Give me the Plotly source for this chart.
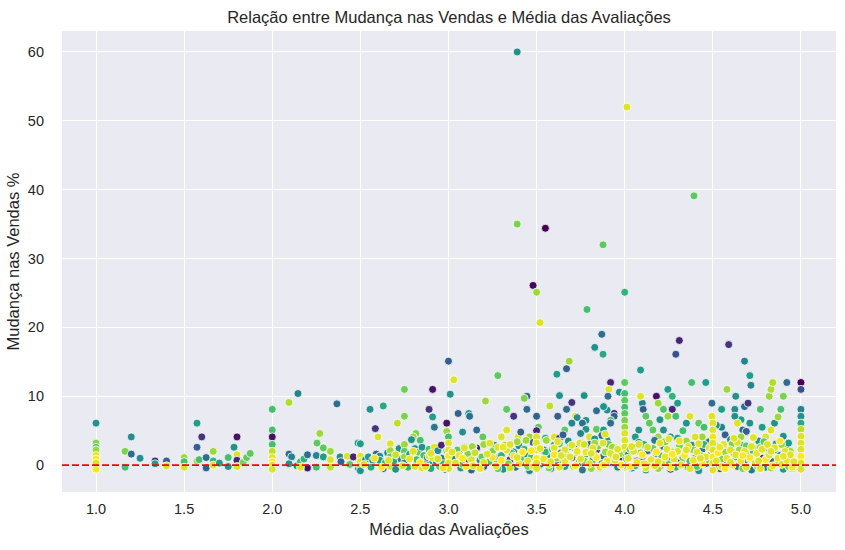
import plotly.graph_objects as go

# ---- Região 1: médias entre 1.0 e 2.45 ----
media_r1 = [1.0,1.0,1.0,1.0,1.0,1.0,1.0,1.0,1.165,1.165,1.20,1.20,1.25,1.335,1.335,1.40,1.40,1.5,1.5,1.5,
            1.573,1.60,1.573,1.573,1.585,1.625,1.625,1.665,1.665,1.665,1.70,1.75,1.75,1.783,1.80,1.80,1.80,1.80,1.835,1.855,1.875,
            2.0,2.0,2.0,2.0,2.0,2.0,2.0,2.0,2.0,
            2.095,2.146,2.367,2.27,2.254,2.29,2.095,2.11,2.095,2.14,2.16,2.18,2.20,2.20,2.16,2.25,2.25,2.29,2.33,2.33,2.33,2.385,2.39,2.425,2.44]
mudanca_r1 = [6.1,3.2,2.6,2.2,1.4,0.9,0.3,-0.6,2.0,-0.3,4.1,1.6,1.0,0.6,0.2,0.6,-0.1,1.1,0.5,-0.3,
              6.1,4.1,2.6,0.6,0.8,1.1,-0.4,2.0,0.6,0.0,0.3,1.1,-0.2,2.6,4.1,1.5,0.7,-0.2,0.4,1.1,1.7,
              8.1,5.1,4.1,3.0,2.0,1.1,0.5,0.0,-0.6,
              9.1,10.4,8.9,4.6,3.2,2.5,1.6,1.2,0.2,-0.1,0.5,0.9,1.5,-0.4,-0.3,1.4,-0.3,1.2,2.0,0.8,-0.3,1.2,0.5,1.3,0.1]
cor_r1 = [0.5,0.8,0.75,0.85,0.95,1.0,0.95,1.0,0.8,0.7,0.5,0.35,0.5,0.1,0.55,0.3,0.95,0.85,0.7,0.95,
          0.55,0.15,0.3,0.85,0.7,0.35,0.3,0.85,0.65,0.95,0.55,0.7,0.5,0.5,0.05,0.95,0.1,0.95,0.8,0.75,0.75,
          0.7,0.7,0.05,0.7,0.9,0.95,1.0,0.95,0.95,
          0.88,0.45,0.35,0.85,0.75,0.75,0.35,0.45,0.5,0.5,0.7,0.65,0.35,0.05,0.95,0.45,0.7,0.55,0.85,0.95,0.9,0.5,0.3,0.95,0.75]

# ---- Região 2: médias entre 2.45 e 3.05 ----
media_r2 = [2.555,2.63,2.75,2.91,2.89,2.91,2.92,2.99,2.99,2.585,2.60,2.71,2.75,2.815,2.80,2.487,2.84,2.79,
            2.46,2.49,2.5,2.5,2.5,2.5,2.5,2.53,2.545,2.57,2.56,2.59,2.61,2.61,2.63,2.64,2.655,2.67,2.67,2.67,2.67,2.69,2.70,2.72,2.73,2.75,2.75,2.75,2.75,2.77,2.78,2.81,2.81,2.82,2.83,2.85,2.85,2.86,2.87,2.88,2.89,2.89,2.9,2.91,2.92,2.93,2.94,2.95,2.96,2.96,2.97,2.99,2.98,2.91,
            3.0,3.0,3.0,3.0,3.0,3.0,3.0,3.01,3.03]
mudanca_r2 = [8.1,8.6,11.0,11.0,8.1,7.0,5.5,6.1,4.9,5.3,4.1,6.1,7.1,4.6,4.1,3.2,3.6,3.7,
              1.2,-0.5,3.1,1.3,0.5,-0.2,-0.8,0.8,1.2,0.7,-0.3,1.6,1.3,0.7,-0.5,0.3,1.8,3.1,2.1,1.2,-0.2,0.6,-0.6,2.4,0.9,3.0,2.0,1.2,0.3,-0.3,1.6,2.4,-0.2,0.8,1.9,2.6,-0.4,1.4,0.4,1.1,2.3,1.3,-0.5,0.6,2.6,0.5,2.1,-0.2,2.9,1.0,0.2,2.1,-0.6,1.1,
              15.1,4.1,3.2,2.2,1.3,0.3,-0.5,10.3,12.4]
cor_r2 = [0.5,0.6,0.78,0.05,0.15,0.55,0.4,0.05,0.85,0.15,0.95,0.9,0.8,0.8,0.85,0.5,0.7,0.5,
          0.1,0.4,0.55,0.95,0.95,0.85,0.5,0.45,0.55,0.5,0.6,0.3,0.5,0.55,0.3,0.7,0.45,0.95,0.85,0.75,0.95,0.6,0.5,0.5,0.45,0.85,0.75,0.85,0.5,0.65,0.55,0.5,0.95,0.7,0.75,0.5,0.95,0.7,0.45,0.5,0.7,0.95,0.6,0.55,0.95,0.5,0.5,0.75,0.1,0.4,0.65,0.75,0.3,0.95,
          0.3,0.7,0.95,0.95,1.0,0.95,0.95,0.5,0.95]

# ---- Região 3: pontos esparsos entre 3.05 e 4.0 ----
media_r3 = [3.055,3.115,3.12,3.08,3.16,3.195,3.235,3.28,3.21,3.445,3.43,3.33,3.445,3.37,3.50,3.575,3.63,3.70,3.67,3.62,3.77,3.615,3.67,3.685,3.30,3.33,3.395,3.41,3.46,3.51,3.50,3.56,3.60,3.63,3.66,3.72,3.73,3.78,3.80,3.84,3.84,3.92,3.91,3.905,3.97,3.94,3.94,3.90,3.92,3.88,3.70,3.76,3.78,3.84,3.88,3.92]
mudanca_r3 = [7.5,7.5,7.1,4.8,5.1,4.1,3.3,13.0,9.3,10.0,9.7,8.1,8.1,7.1,7.1,8.6,10.1,9.1,8.1,7.1,10.1,13.2,14.0,15.1,4.1,5.1,4.1,4.8,4.1,5.5,5.0,3.6,4.1,3.9,5.1,7.1,6.9,6.5,4.1,5.1,7.9,12.0,11.0,10.0,10.6,7.5,7.1,8.0,6.5,8.5,6.1,6.1,5.2,5.2,5.1,6.1]
cor_r3 = [0.3,0.55,0.35,0.5,0.35,0.75,0.85,0.75,0.85,0.3,0.8,0.75,0.35,0.15,0.3,0.9,0.5,0.15,0.35,0.3,0.5,0.55,0.3,0.85,0.95,0.95,0.95,0.3,0.85,0.75,0.1,0.85,0.95,0.1,0.75,0.95,0.5,0.5,0.95,0.85,0.35,0.1,0.95,0.35,0.5,0.1,0.3,0.5,0.7,0.5,0.45,0.35,0.5,0.75,0.55,0.35]

# ---- Região 4: pontos esparsos e colunas entre 4.0 e 5.0 ----
media_r4 = [4.47,4.55,4.52,4.57,4.67,4.69,4.33,4.35,4.22,4.08,4.06,4.26,4.78,4.85,4.71,4.66,4.2,4.495,4.55,4.625,4.625,4.68,4.70,4.63,4.10,4.105,4.245,4.18,4.30,4.27,4.46,4.92,5.0,5.0,
            4.38,4.58,4.27,4.19,4.22,4.12,4.245,4.29,4.77,4.886,4.87,4.42,4.45,4.16,4.14,4.19,4.44,4.66,4.82,4.90,4.83,4.84,
            4.09,4.37,4.495,4.64,4.83,4.80,4.40,4.09,4.71,4.716,
            5.0,5.0,5.0,5.0,5.0,5.0,5.0,5.0,5.0,5.0,
            4.0,4.0,4.0,4.0,4.0,4.0,4.0,4.0,4.0,4.0,4.0,4.0,4.0]
mudanca_r4 = [3.3,5.5,5.8,4.4,5.1,4.9,5.0,6.1,5.1,5.1,4.1,4.1,5.5,6.1,6.1,6.6,6.6,9.0,8.1,8.1,7.1,8.5,9.0,10.0,9.0,8.1,11.0,10.0,9.0,8.1,12.0,12.0,12.0,11.0,
              12.0,11.0,10.0,9.0,8.1,7.1,7.1,7.1,8.1,8.1,7.0,6.1,5.5,5.1,6.1,4.1,4.1,4.1,10.0,10.0,11.0,12.0,
              10.0,7.1,7.1,6.1,5.1,4.1,4.1,13.8,13.0,11.6,
              8.1,7.1,6.1,5.2,4.2,3.2,2.3,1.3,0.3,-0.6,
              12.0,10.4,9.4,8.4,7.5,6.5,5.5,4.6,3.6,2.6,1.7,0.7,-0.3]
cor_r4 = [0.6,0.45,0.5,0.3,0.35,0.3,0.7,0.5,0.5,0.5,0.55,0.55,0.55,0.5,0.5,0.55,0.5,0.35,0.55,0.5,0.5,0.35,0.15,0.5,0.45,0.3,0.55,0.05,0.55,0.1,0.55,0.35,0.0,0.25,
          0.7,0.85,0.65,0.85,0.72,0.75,0.85,0.7,0.7,0.7,0.85,0.75,0.7,0.75,0.75,0.85,0.85,0.85,0.85,0.8,0.88,0.88,
          0.95,0.95,0.95,0.95,0.95,0.95,0.95,0.55,0.55,0.45,
          0.45,0.5,0.6,0.9,0.95,0.95,0.95,1.0,0.95,0.95,
          0.75,0.7,0.75,0.7,0.75,0.8,0.85,0.95,0.95,0.95,0.95,1.0,0.95]

# ---- Valores extremos ----
media_ext = [3.39,4.013,4.393,3.39,3.55,3.877,3.48,3.50,4.0,3.786,3.52,3.87,3.83,3.877,4.31,4.29,4.59,4.68]
mudanca_ext = [60.0,52.0,39.1,35.0,34.4,32.0,26.1,25.1,25.1,22.6,20.7,19.0,17.1,16.1,18.1,16.1,17.5,15.1]
cor_ext = [0.5,0.95,0.75,0.8,0.0,0.75,0.02,0.85,0.65,0.7,0.95,0.35,0.5,0.6,0.1,0.25,0.15,0.45]

# ---- Faixa densa perto de zero (tons escuros) ----
media_d3 = [3.04,3.06,3.07,3.09,3.1,3.12,3.13,3.15,3.16,3.18,3.2,3.22,3.24,3.26,3.27,3.29,3.31,3.33,3.35,3.37,3.38,3.4,3.42,3.44,3.46,3.48,3.49,3.52,3.54,3.56,3.58,3.6,3.62,3.64,3.66,3.68,3.7,3.72,3.74,3.76,3.78,3.8,3.82,3.84,3.86,3.88,3.9,3.92,3.94,3.96,3.98,3.87,3.83,3.75,3.65,3.55]
mudanca_d3 = [0.9,1.8,-0.4,2.6,0.4,1.3,-0.7,2.0,2.5,0.7,-0.2,1.6,3.1,2.9,0.2,1.1,-0.6,2.4,0.8,1.9,-0.3,2.8,0.5,1.5,-0.8,3.3,1.0,0.1,2.2,1.3,-0.5,2.9,0.6,1.8,-0.2,3.5,1.1,2.4,0.3,-0.7,1.6,3.0,0.8,2.2,-0.4,1.3,3.6,0.4,2.0,-0.3,1.2,4.3,3.8,4.6,4.4,3.9]
cor_d3 = [0.45,0.3,0.5,0.35,0.1,0.5,0.3,0.55,0.1,0.45,0.2,0.5,0.35,0.5,0.4,0.25,0.5,0.55,0.15,0.45,0.35,0.5,0.3,0.5,0.45,0.3,0.55,0.4,0.1,0.5,0.35,0.5,0.3,0.45,0.55,0.5,0.2,0.35,0.5,0.4,0.5,0.3,0.55,0.1,0.45,0.35,0.5,0.3,0.5,0.45,0.1,0.35,0.5,0.45,0.3,0.55]

media_d4 = [4.02,4.04,4.05,4.07,4.08,4.1,4.12,4.13,4.15,4.17,4.18,4.2,4.22,4.24,4.26,4.28,4.3,4.32,4.34,4.36,4.38,4.4,4.42,4.44,4.46,4.48,4.52,4.54,4.56,4.58,4.6,4.62,4.64,4.66,4.68,4.7,4.72,4.74,4.76,4.78,4.8,4.82,4.84,4.86,4.88,4.9,4.92,4.94,4.95,4.93,4.9]
mudanca_d4 = [1.5,-0.4,2.6,0.6,3.3,1.2,-0.7,2.1,0.3,3.6,1.7,-0.2,2.7,0.9,-0.6,2.0,3.9,0.5,1.5,-0.3,2.9,1.0,-0.8,2.3,0.2,3.4,1.3,-0.5,2.6,0.7,3.7,1.8,-0.2,2.9,0.4,1.6,-0.7,2.3,3.5,1.0,-0.3,2.0,0.5,3.1,1.4,-0.6,2.5,0.8,-0.4,3.2,4.2]
cor_d4 = [0.45,0.3,0.5,0.1,0.45,0.35,0.5,0.3,0.55,0.4,0.15,0.5,0.35,0.45,0.25,0.5,0.55,0.35,0.1,0.45,0.5,0.3,0.5,0.4,0.55,0.35,0.5,0.2,0.45,0.35,0.5,0.1,0.45,0.55,0.3,0.5,0.4,0.35,0.5,0.15,0.45,0.55,0.3,0.5,0.4,0.55,0.45,0.35,0.2,0.55,0.5]

# ---- Faixa densa (tons verdes) ----
media_g3 = [3.05,3.08,3.11,3.14,3.17,3.19,3.21,3.23,3.25,3.28,3.3,3.32,3.34,3.36,3.39,3.41,3.43,3.45,3.47,3.5,3.53,3.55,3.57,3.59,3.61,3.63,3.65,3.67,3.69,3.71,3.73,3.75,3.77,3.79,3.81,3.83,3.85,3.87,3.89,3.91,3.93,3.95,3.97,3.99,3.44,3.555,3.2,3.83,3.93,3.135]
mudanca_g3 = [2.2,0.1,1.6,2.7,-0.3,1.2,3.0,0.5,2.0,-0.5,1.4,2.9,0.2,1.7,3.4,0.9,2.3,-0.2,1.2,2.6,0.6,1.9,-0.4,2.3,1.0,3.1,0.3,1.5,2.7,-0.2,1.8,3.3,0.6,2.1,-0.5,1.4,2.8,0.2,1.9,3.0,0.8,2.5,1.6,-0.1,3.6,3.6,3.0,3.2,2.6,2.7]
cor_g3 = [0.75,0.7,0.8,0.85,0.65,0.75,0.85,0.7,0.8,0.75,0.65,0.85,0.8,0.7,0.85,0.75,0.65,0.8,0.7,0.85,0.75,0.65,0.8,0.7,0.85,0.75,0.65,0.8,0.7,0.85,0.75,0.65,0.8,0.7,0.85,0.75,0.8,0.65,0.85,0.75,0.7,0.8,0.85,0.75,0.85,0.85,0.85,0.85,0.85,0.85]

media_g4 = [4.01,4.03,4.06,4.09,4.11,4.14,4.16,4.19,4.21,4.23,4.25,4.27,4.29,4.31,4.33,4.35,4.37,4.39,4.41,4.43,4.45,4.47,4.49,4.51,4.53,4.55,4.57,4.59,4.61,4.63,4.65,4.67,4.69,4.71,4.73,4.75,4.77,4.79,4.81,4.83,4.85,4.87,4.89,4.91,4.93,4.94]
mudanca_g4 = [0.9,2.3,-0.1,1.8,3.0,0.4,2.4,-0.5,1.3,3.4,0.1,1.9,-0.3,2.8,1.1,3.5,0.6,2.2,-0.2,1.4,3.0,0.8,2.0,-0.4,2.7,0.9,1.9,-0.1,3.1,1.2,2.2,-0.5,2.8,0.9,1.9,-0.1,2.6,3.4,1.2,-0.4,2.2,0.6,3.0,1.6,-0.2,2.0]
cor_g4 = [0.75,0.8,0.7,0.85,0.65,0.8,0.75,0.85,0.7,0.8,0.75,0.85,0.65,0.8,0.75,0.85,0.7,0.8,0.75,0.85,0.65,0.8,0.75,0.85,0.7,0.8,0.85,0.75,0.8,0.7,0.85,0.8,0.75,0.85,0.7,0.8,0.85,0.75,0.8,0.85,0.7,0.8,0.85,0.75,0.8,0.85]

# ---- Faixa densa (tons amarelos) ----
media_y3 = [3.04,3.06,3.09,3.1,3.13,3.15,3.18,3.2,3.235,3.25,3.27,3.3,3.33,3.35,3.37,3.4,3.42,3.45,3.48,3.5,3.5,3.5,3.5,3.5,3.5,3.52,3.54,3.57,3.6,3.6,3.63,3.66,3.66,3.69,3.7,3.72,3.746,3.75,3.77,3.78,3.8,3.82,3.84,3.86,3.877,3.89,3.9,3.92,3.945,3.96,3.98,3.35,3.28,3.62]
mudanca_y3 = [0.3,1.4,2.5,-0.2,0.8,1.8,-0.5,0.4,3.2,1.1,-0.1,0.7,2.2,-0.4,1.3,0.2,1.9,0.6,-0.2,4.1,3.2,2.2,1.0,0.3,-0.5,2.4,0.9,0.1,2.5,1.5,-0.3,2.2,0.6,1.2,2.9,-0.1,3.2,0.9,3.0,1.9,0.2,2.5,1.1,-0.3,3.2,4.5,0.6,1.7,0.7,2.3,0.0,3.0,2.6,3.4]
cor_y3 = [0.95,0.97,0.95,1.0,0.95,0.92,0.97,0.95,0.95,0.97,0.95,1.0,0.95,0.93,0.97,0.95,1.0,0.95,0.97,0.95,
          0.95,0.95,1.0,0.95,0.95,0.95,0.97,0.95,0.95,1.0,0.95,0.95,0.97,0.95,0.95,1.0,0.95,0.95,0.93,0.97,
          0.95,0.95,1.0,0.95,0.95,0.95,0.97,0.95,0.95,0.95,1.0,0.95,0.95,0.95]

media_y4 = [4.02,4.03,4.05,4.07,4.08,4.1,4.12,4.13,4.15,4.17,4.18,4.2,4.21,4.23,4.24,4.26,4.28,4.3,4.31,4.32,4.34,4.36,4.37,4.39,4.41,4.42,4.44,4.46,4.48,4.5,4.5,4.5,4.5,4.5,4.5,4.5,4.5,4.52,4.53,4.55,4.56,4.58,4.6,4.61,4.63,4.64,4.66,4.68,4.69,4.71,4.72,4.74,4.75,4.77,4.78,4.8,4.81,4.82,4.84,4.85,4.87,4.88,4.89,4.91,4.92,4.94,4.95,4.25,4.62,4.73]
mudanca_y4 = [1.0,-0.2,2.0,0.4,3.0,1.5,-0.4,2.6,0.8,-0.1,1.9,3.2,0.3,1.2,2.3,-0.3,0.9,2.0,3.5,0.0,1.4,2.7,-0.5,0.7,1.9,3.1,0.2,1.2,2.5,6.1,5.1,4.1,3.2,2.2,1.2,0.3,-0.7,0.6,1.8,-0.2,3.0,1.0,2.2,0.0,1.5,3.3,0.6,2.0,-0.3,1.1,2.7,0.3,1.7,-0.5,2.3,0.8,3.0,1.5,-0.1,2.5,1.0,3.5,0.1,2.0,0.7,1.5,-0.3,3.8,3.9,4.0]
cor_y4 = [0.95,1.0,0.95,0.97,0.95,1.0,0.95,0.93,0.97,0.95, 1.0,0.95,0.95,0.97,0.95,1.0,0.95,0.95,0.97,0.95,
          1.0,0.95,0.95,0.97,0.95,0.95,1.0,0.95,0.97,0.95, 0.95,0.97,0.95,0.95,1.0,0.95,0.95,0.95,1.0,0.95,
          0.95,0.97,0.95,1.0,0.95,0.95,0.97,0.95,0.95,1.0, 0.95,0.95,0.97,0.95,0.95,1.0,0.95,0.95,0.97,0.95,
          0.95,1.0,0.95,0.95,0.97,0.95,1.0,0.95,0.95,0.95]

media_y5 = [2.52,2.58,2.62,2.66,2.7,2.74,2.78,2.8,2.84,2.87,2.9,2.94,2.97,
            3.02,3.08,3.14,3.22,3.31,3.39,3.47,3.58,3.64,3.73,3.81,3.88,3.95,
            4.04,4.11,4.19,4.27,4.35,4.43,4.54,4.6,4.67,4.76,4.83,4.9,4.96,4.57]
mudanca_y5 = [0.1,1.0,-0.3,0.7,1.5,-0.1,0.9,2.0,0.4,-0.2,1.7,0.9,-0.4,
              1.9,1.0,-0.1,1.6,2.6,1.1,2.1,0.5,1.4,2.0,1.7,0.0,1.2,
              2.7,0.2,0.5,1.6,2.2,1.0,2.6,0.4,1.4,0.6,2.0,1.3,0.5,-0.5]
cor_y5 = [0.95,0.97,1.0,0.95,0.92,0.95,0.97,0.95,1.0,0.95,0.95,0.93,0.97,
          0.95,1.0,0.95,0.95,0.97,0.95,1.0,0.95,0.95,0.97,0.95,1.0,0.95,
          0.95,0.97,0.95,1.0,0.95,0.95,0.97,0.95,1.0,0.95,0.95,0.97,0.95,1.0]

xticks = [1.0, 1.5, 2.0, 2.5, 3.0, 3.5, 4.0, 4.5, 5.0]
xtick_labels = ["1.0", "1.5", "2.0", "2.5", "3.0", "3.5", "4.0", "4.5", "5.0"]
yticks = [0, 10, 20, 30, 40, 50, 60]

grupos = [
    (media_r1, mudanca_r1, cor_r1), (media_r2, mudanca_r2, cor_r2),
    (media_r3, mudanca_r3, cor_r3), (media_r4, mudanca_r4, cor_r4),
    (media_ext, mudanca_ext, cor_ext),
    (media_d3, mudanca_d3, cor_d3), (media_d4, mudanca_d4, cor_d4),
    (media_g3, mudanca_g3, cor_g3), (media_g4, mudanca_g4, cor_g4),
    (media_y3, mudanca_y3, cor_y3), (media_y4, mudanca_y4, cor_y4),
    (media_y5, mudanca_y5, cor_y5),
]
xs, ys, cs = [], [], []
for a, b, c in grupos:
    n = min(len(a), len(b), len(c))
    xs += a[:n]
    ys += b[:n]
    cs += c[:n]

FONT = "Liberation Sans, Arial, sans-serif"
TXT = "#262626"

fig = go.Figure(go.Scatter(
    x=xs, y=ys, mode="markers", showlegend=False,
    marker=dict(size=8, color=cs, colorscale="Viridis", cmin=0, cmax=1,
                line=dict(color="white", width=0.8)),
))
fig.add_hline(y=0, line=dict(color="#FF0000", dash="7px,3px", width=1.8), layer="above")

fig.update_layout(
    width=845, height=550,
    margin=dict(l=62, r=9, t=31, b=58),
    plot_bgcolor="#EAEAF2", paper_bgcolor="white",
    font=dict(family=FONT, color=TXT, size=14.5),
    title=dict(text="Relação entre Mudança nas Vendas e Média das Avaliações",
               x=0.5, xref="paper", xanchor="center",
               y=1 - 17 / 550, yref="container", yanchor="middle",
               font=dict(family=FONT, size=16.5, color=TXT)),
)
fig.update_xaxes(range=[0.807, 5.199], tickvals=xticks, ticktext=xtick_labels,
                 showgrid=True, gridcolor="white", gridwidth=1.1, zeroline=False,
                 showline=False, ticks="", ticklabelstandoff=6, automargin=False,
                 tickfont=dict(size=14.5, family=FONT, color=TXT),
                 title=dict(text="Média das Avaliações", font=dict(size=16.5, family=FONT, color=TXT), standoff=7))
fig.update_yaxes(range=[-3.9, 63.04], tickvals=yticks,
                 showgrid=True, gridcolor="white", gridwidth=1.1, zeroline=False,
                 showline=False, ticks="", ticklabelstandoff=17, automargin=False,
                 tickfont=dict(size=14.5, family=FONT, color=TXT),
                 title=dict(text="Mudança nas Vendas %", font=dict(size=16.5, family=FONT, color=TXT), standoff=4))

fig.write_html("out.html", config={"displayModeBar": False},
               post_script="document.body.style.margin='0px';")
